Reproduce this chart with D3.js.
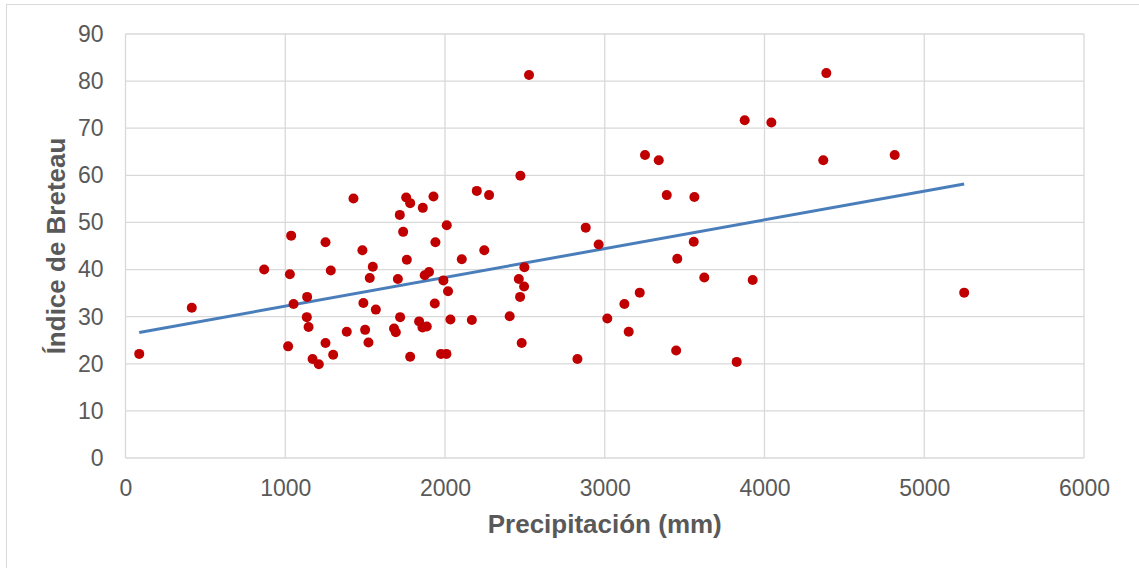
<!DOCTYPE html>
<html lang="es">
<head>
<meta charset="utf-8">
<title>Índice de Breteau vs Precipitación</title>
<script src="https://cdn.jsdelivr.net/npm/d3@7"></script>
<style>
  body { margin: 0; background: #fff; }
  text { font-family: "Liberation Sans", Arial, sans-serif; fill: #595959; }
  .tick text { font-size: 23px; }
  .title { font-size: 26px; font-weight: bold; }
</style>
</head>
<body>
<div id="chart"></div>
<script>
// precipitación (mm) y índice de Breteau
var precip = [86, 415, 868, 1037, 1029, 1052, 1018, 1137, 1135, 1146,
  1171, 1210, 1252, 1285, 1252, 1300, 1385, 1427, 1483, 1548,
  1529, 1489, 1567, 1500, 1521, 2472, 1757, 1782, 1928, 1717,
  1861, 2199, 2276, 2011, 1738, 1940, 2246, 2105, 1761, 1705,
  1900, 1873, 1990, 2019, 2497, 2462, 2495, 2470, 1936, 1719,
  1838, 1859, 1886, 1681, 1692, 2034, 2168, 2405, 2480, 1782,
  1975, 2009, 2881, 2962, 2829, 3016, 3123, 3219, 3150, 4387,
  3876, 4043, 3252, 3338, 4368, 4815, 3388, 3561, 3557, 3454,
  3623, 3926, 5250, 3447, 3826, 2526];
var breteau = [22.1, 31.9, 40.0, 47.2, 39.0, 32.7, 23.7, 34.2, 29.9, 27.8,
  21.0, 19.9, 45.8, 39.8, 24.4, 21.9, 26.8, 55.1, 44.1, 40.6,
  38.2, 32.9, 31.5, 27.2, 24.5, 59.9, 55.3, 54.1, 55.5, 51.6,
  53.1, 56.7, 55.8, 49.4, 48.0, 45.8, 44.1, 42.2, 42.1, 38.0,
  39.5, 38.8, 37.7, 35.4, 40.5, 38.0, 36.4, 34.2, 32.8, 29.9,
  29.0, 27.7, 27.9, 27.5, 26.7, 29.4, 29.3, 30.1, 24.4, 21.5,
  22.1, 22.1, 48.9, 45.3, 21.0, 29.6, 32.7, 35.1, 26.8, 81.7,
  71.7, 71.2, 64.3, 63.2, 63.2, 64.3, 55.8, 55.4, 45.9, 42.3,
  38.3, 37.8, 35.1, 22.8, 20.4, 81.3];
var xTicks = [0, 1000, 2000, 3000, 4000, 5000, 6000];
var yTicks = [0, 10, 20, 30, 40, 50, 60, 70, 80, 90];

var w = 1139, h = 568;
var pLeft = 125.5, pRight = 1084, pTop = 34, pBottom = 458;

var svg = d3.select("#chart").append("svg")
  .attr("width", w)
  .attr("height", h);

// borde del área del gráfico
svg.append("rect")
  .attr("x", 6.5).attr("y", 4.5)
  .attr("width", 1200).attr("height", 700)
  .attr("fill", "#fff")
  .attr("stroke", "#d9d9d9");

var x = d3.scaleLinear().domain([0, 6000]).range([pLeft, pRight]);
var y = d3.scaleLinear().domain([0, 90]).range([pBottom, pTop]);

// grid
svg.append("g").selectAll("line")
  .data(yTicks).enter().append("line")
  .attr("x1", pLeft).attr("x2", pRight)
  .attr("y1", function(d) { return y(d); })
  .attr("y2", function(d) { return y(d); })
  .attr("stroke", "#d9d9d9").attr("stroke-width", 1.3);

svg.append("g").selectAll("line")
  .data(xTicks).enter().append("line")
  .attr("y1", pTop).attr("y2", pBottom)
  .attr("x1", function(d) { return x(d); })
  .attr("x2", function(d) { return x(d); })
  .attr("stroke", "#d9d9d9").attr("stroke-width", 1.3);

// axes (labels only)
var xAxis = svg.append("g")
  .attr("transform", "translate(0," + pBottom + ")")
  .call(d3.axisBottom(x).tickValues(xTicks).tickSize(0).tickPadding(22).tickFormat(d3.format("d")));
xAxis.select(".domain").remove();

var yAxis = svg.append("g")
  .attr("transform", "translate(" + pLeft + ",0)")
  .call(d3.axisLeft(y).tickValues(yTicks).tickSize(0).tickPadding(22));
yAxis.select(".domain").remove();

svg.selectAll(".tick text").attr("fill", "#595959");

// línea de tendencia (mínimos cuadrados)
var n = precip.length;
var mx = d3.mean(precip), my = d3.mean(breteau);
var sxy = 0, sxx = 0;
for (var i = 0; i < n; i++) {
  sxy += (precip[i] - mx) * (breteau[i] - my);
  sxx += (precip[i] - mx) * (precip[i] - mx);
}
var slope = sxy / sxx, icpt = my - slope * mx;
var xmin = d3.min(precip), xmax = d3.max(precip);

svg.append("line")
  .attr("x1", x(xmin)).attr("y1", y(icpt + slope * xmin))
  .attr("x2", x(xmax)).attr("y2", y(icpt + slope * xmax))
  .attr("stroke", "#4a7ebb")
  .attr("stroke-width", 3);

// puntos
svg.append("g").selectAll("circle")
  .data(precip).enter().append("circle")
  .attr("cx", function(d) { return x(d); })
  .attr("cy", function(d, i) { return y(breteau[i]); })
  .attr("r", 5)
  .attr("fill", "#c00000");

// titles
svg.append("text")
  .attr("class", "title")
  .attr("x", (pLeft + pRight) / 2)
  .attr("y", 533)
  .attr("text-anchor", "middle")
  .text("Precipitación (mm)");

svg.append("text")
  .attr("class", "title")
  .attr("transform", "translate(65," + (pTop + pBottom) / 2 + ") rotate(-90)")
  .attr("text-anchor", "middle")
  .text("Índice de Breteau");
</script>
</body>
</html>
